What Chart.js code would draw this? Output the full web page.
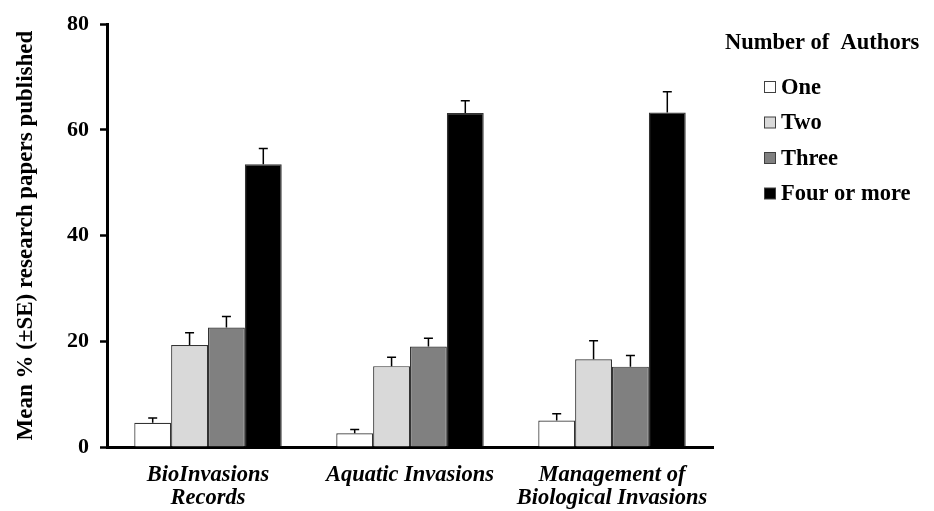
<!DOCTYPE html>
<html>
<head>
<meta charset="utf-8">
<script src="https://cdn.jsdelivr.net/npm/chart.js@4.4.1/dist/chart.umd.min.js"></script>
<style>
html,body{margin:0;padding:0;background:#fff;}
#wrap{width:934px;height:511px;position:relative;}
</style>
</head>
<body>
<div id="wrap"><canvas id="c" width="934" height="511"></canvas></div>
<script>
const categories = [["BioInvasions","Records"], "Aquatic Invasions", ["Management of","Biological Invasions"]];
const seriesNames = ["One", "Two", "Three", "Four or more"];
const oneMean = [4.6, 2.6, 5.0];
const oneSE = [0.9, 0.7, 1.3];
const twoMean = [19.3, 15.3, 16.6];
const twoSE = [2.3, 1.7, 3.5];
const threeMean = [22.6, 19.0, 15.2];
const threeSE = [2.1, 1.6, 2.1];
const fourMean = [53.5, 63.2, 63.3];
const fourSE = [3.0, 2.3, 3.9];
const yTicks = [0, 20, 40, 60, 80];
const legendTitle = "Number of  Authors";
const yTitle = "Mean % (±SE) research papers published";

const colors = ["#ffffff", "#d9d9d9", "#808080", "#000000"];
const means = [oneMean, twoMean, threeMean, fourMean];
const ses = [oneSE, twoSE, threeSE, fourSE];
const FONT = "'Liberation Serif','Times New Roman',serif";

const errorBars = {
  id: 'errorBars',
  afterDatasetsDraw(chart) {
    const ctx = chart.ctx;
    const y = chart.scales.y;
    ctx.save();
    ctx.strokeStyle = '#000';
    ctx.lineWidth = 1.5;
    chart.data.datasets.forEach((ds, i) => {
      const meta = chart.getDatasetMeta(i);
      meta.data.forEach((bar, j) => {
        const top = y.getPixelForValue(ds.data[j]);
        const e = y.getPixelForValue(ds.data[j] + ds.se[j]);
        ctx.beginPath();
        ctx.moveTo(bar.x, top);
        ctx.lineTo(bar.x, e);
        ctx.moveTo(bar.x - 4.5, e);
        ctx.lineTo(bar.x + 4.5, e);
        ctx.stroke();
      });
    });
    ctx.restore();
  }
};

const customLegend = {
  id: 'customLegend',
  afterDraw(chart) {
    const ctx = chart.ctx;
    ctx.save();
    ctx.fillStyle = '#000';
    ctx.textBaseline = 'middle';
    ctx.font = "bold 22.5px " + FONT;
    ctx.textAlign = 'left';
    ctx.fillText(legendTitle, 725, 43);
    chart.data.datasets.forEach((ds, i) => {
      const yc = 87 + i * 35.5;
      ctx.fillStyle = ds.backgroundColor;
      ctx.fillRect(764.5, yc - 5.5, 11, 11);
      ctx.strokeStyle = '#404040';
      ctx.lineWidth = 1;
      ctx.strokeRect(764.5, yc - 5.5, 11, 11);
      ctx.fillStyle = '#000';
      ctx.fillText(ds.label, 781, yc + 1);
    });
    ctx.restore();
  }
};

new Chart(document.getElementById('c'), {
  type: 'bar',
  data: {
    labels: categories,
    datasets: seriesNames.map((n, i) => ({
      label: n,
      data: means[i],
      se: ses[i],
      backgroundColor: colors[i],
      borderColor: '#333333',
      borderWidth: 1.2,
      barPercentage: 1.0,
      categoryPercentage: 0.73
    }))
  },
  options: {
    responsive: false,
    animation: false,
    devicePixelRatio: 1,
    layout: { padding: { top: 18, right: 221, left: 0, bottom: 0 } },
    plugins: { legend: { display: false }, tooltip: { enabled: false } },
    scales: {
      x: {
        grid: { display: false, drawTicks: false },
        border: { display: true, color: '#000', width: 3 },
        ticks: {
          color: '#000',
          font: { family: FONT, size: 22.5, style: 'italic', weight: 'bold', lineHeight: 1.02 },
          padding: 17,
          maxRotation: 0,
          autoSkip: false
        },
        afterFit(s) { s.height = 64; }
      },
      y: {
        min: 0, max: 80,
        afterBuildTicks(s) { s.ticks = yTicks.map(v => ({ value: v })); },
        grid: { display: true, drawOnChartArea: false, drawTicks: true, tickLength: 7, tickWidth: 2.5, tickColor: '#000' },
        border: { display: true, color: '#000', width: 3 },
        ticks: {
          color: '#000',
          font: { family: FONT, size: 22, weight: 'bold' },
          padding: 11
        },
        title: {
          display: true,
          text: yTitle,
          color: '#000',
          font: { family: FONT, size: 23, weight: 'bold' },
          padding: { top: 12, bottom: 0 }
        },
        afterFit(s) { s.width = 107; }
      }
    }
  },
  plugins: [errorBars, customLegend]
});
</script>
</body>
</html>
